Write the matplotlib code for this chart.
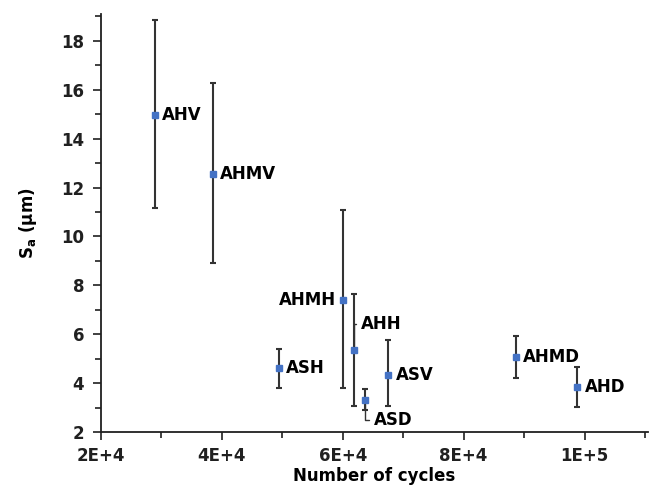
import numpy as np
import matplotlib
matplotlib.use("Agg")
import matplotlib.pyplot as plt
from matplotlib.ticker import MultipleLocator

plt.rcParams['font.family'] = ['DejaVu Sans']
plt.rcParams['font.weight'] = 'bold'
plt.rcParams['mathtext.default'] = 'bf'

# data
names = ["AHV", "AHMV", "ASH", "AHMH", "AHH", "ASD", "ASV", "AHMD", "AHD"]
cycles = [28900, 38600, 49500, 60000, 61800, 63600, 67500, 88600, 98800]
sa = [14.98, 12.55, 4.60, 7.40, 5.34, 3.31, 4.35, 5.05, 3.84]
err_hi = [18.86, 16.29, 5.39, 11.09, 7.65, 3.74, 5.75, 5.92, 4.66]
err_lo = [11.16, 8.92, 3.79, 3.79, 3.07, 2.90, 3.06, 4.21, 3.03]

xticks = [20000, 40000, 60000, 80000, 100000]
xtick_labels = ["2E+4", "4E+4", "6E+4", "8E+4", "1E+5"]
yticks = [2, 4, 6, 8, 10, 12, 14, 16, 18]

sa = np.array(sa)
yerr = [sa - np.array(err_lo), np.array(err_hi) - sa]

fig = plt.figure(figsize=(6.53, 4.87), dpi=100)
ax = fig.add_axes([101/653, 1 - 432/487, 547/653, 418/487])

ax.errorbar(cycles, sa, yerr=yerr, fmt="none", ecolor="#333333",
            elinewidth=1.5, capsize=2.5, capthick=1.5, zorder=2)
ax.plot(cycles, sa, "s", color="#4472C4", markersize=5, zorder=3)

fs = 12
# label offsets in points
offsets = {"AHV": (5, 0), "AHMV": (5, 0), "ASH": (5, 0), "AHMH": (-5, 0),
           "AHMD": (5.5, 0), "AHD": (5.5, 0), "ASV": (5.5, 0)}
for n, x, y in zip(names, cycles, sa):
    if n in offsets:
        dx, dy = offsets[n]
        ha = "left" if dx > 0 else "right"
        ax.annotate(n, (x, y), xytext=(dx, dy), textcoords="offset points",
                    ha=ha, va="center", fontsize=fs, fontweight="bold")

i = names.index("AHH")
ax.annotate("AHH", (cycles[i], sa[i]), xytext=(5, 19), textcoords="offset points",
            ha="left", va="center", fontsize=fs, fontweight="bold",
            arrowprops=dict(arrowstyle="-", color="#333333", lw=1,
                            shrinkA=1, shrinkB=3,
                            connectionstyle="angle,angleA=0,angleB=90,rad=0"))
i = names.index("ASD")
ax.annotate("ASD", (cycles[i], sa[i]), xytext=(6.5, -14.5), textcoords="offset points",
            ha="left", va="center", fontsize=fs, fontweight="bold",
            arrowprops=dict(arrowstyle="-", color="#333333", lw=1,
                            shrinkA=1, shrinkB=3,
                            connectionstyle="angle,angleA=0,angleB=90,rad=0"))

ax.set_xlim(20000, 110500)
ax.set_ylim(2, 19.1)
ax.set_xticks(xticks)
ax.set_xticklabels(xtick_labels)
ax.set_yticks(yticks)
ax.xaxis.set_minor_locator(MultipleLocator(10000))
ax.yaxis.set_minor_locator(MultipleLocator(1))

ax.spines["top"].set_visible(False)
ax.spines["right"].set_visible(False)
for s in ["left", "bottom"]:
    ax.spines[s].set_linewidth(1.3)
    ax.spines[s].set_color("#202020")

ax.tick_params(axis="x", which="major", pad=5)
ax.tick_params(axis="y", which="major", pad=6)
ax.tick_params(axis="both", which="major", direction="out", length=6, width=1.2,
               labelsize=fs, colors="#202020")
ax.tick_params(axis="both", which="minor", direction="out", length=4, width=1.2,
               colors="#202020")
for lab in ax.get_xticklabels() + ax.get_yticklabels():
    lab.set_fontweight("bold")

ax.set_xlabel("Number of cycles", fontsize=fs, fontweight="bold", labelpad=1)
ax.set_ylabel("S$_a$ (μm)", fontsize=fs, fontweight="bold", labelpad=16)

fig.savefig("out.png", dpi=100)
